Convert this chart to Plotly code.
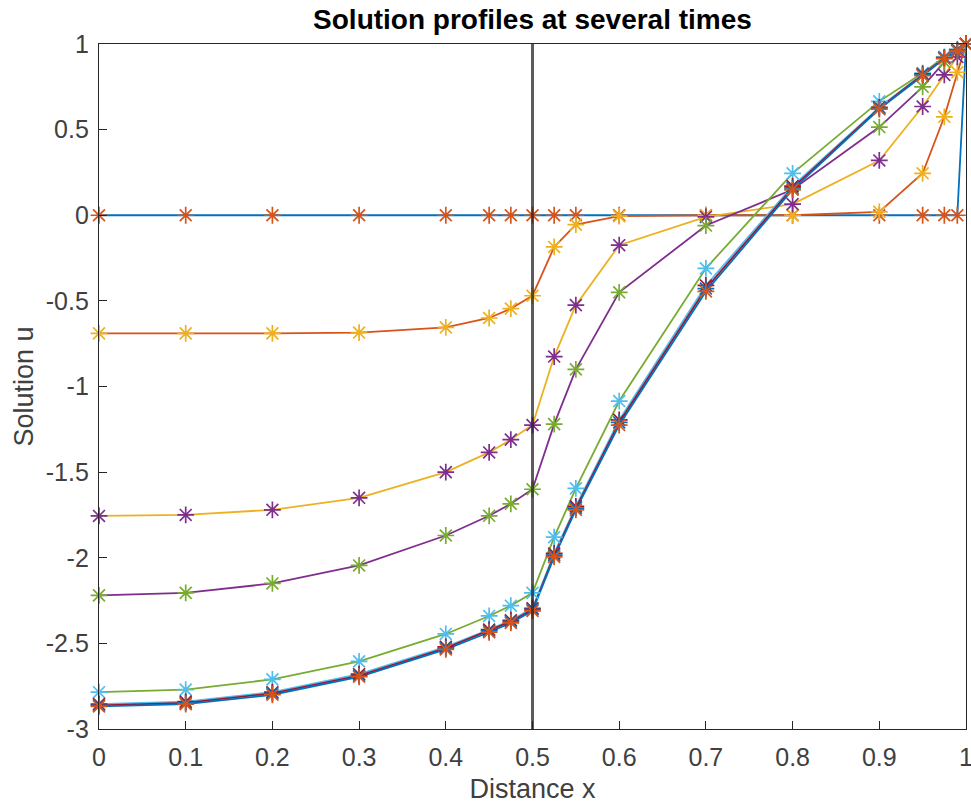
import plotly.graph_objects as go

x = [0, 0.1, 0.2, 0.3, 0.4, 0.45, 0.475, 0.5, 0.525, 0.55, 0.6, 0.7, 0.8, 0.9, 0.95, 0.975, 0.99, 1]

u1 = [0, 0, 0, 0, 0, 0, 0, 0, 0, 0, 0, 0, 0, 0, 0, 0, 0, 1]
u2 = [-0.69, -0.69, -0.69, -0.685, -0.655, -0.60, -0.545, -0.47, -0.185, -0.055, -0.005, 0, 0, 0.02, 0.245, 0.575, 0.835, 1]
u3 = [-1.756, -1.75, -1.72, -1.65, -1.50, -1.385, -1.31, -1.225, -0.825, -0.525, -0.175, -0.01, 0.065, 0.32, 0.635, 0.82, 0.925, 1]
u4 = [-2.22, -2.205, -2.15, -2.045, -1.87, -1.755, -1.685, -1.60, -1.22, -0.90, -0.45, -0.06, 0.15, 0.515, 0.75, 0.895, 0.96, 1]
u5 = [-2.785, -2.77, -2.71, -2.605, -2.445, -2.34, -2.28, -2.205, -1.88, -1.595, -1.085, -0.31, 0.245, 0.665, 0.83, 0.925, 0.97, 1]
u6 = [-2.855, -2.84, -2.785, -2.68, -2.52, -2.42, -2.365, -2.295, -1.975, -1.70, -1.195, -0.41, 0.17, 0.63, 0.825, 0.92, 0.965, 1]
u7 = [-2.862, -2.848, -2.792, -2.688, -2.528, -2.427, -2.372, -2.302, -1.985, -1.71, -1.21, -0.428, 0.16, 0.625, 0.82, 0.918, 0.963, 1]
u8 = [-2.868, -2.855, -2.80, -2.695, -2.535, -2.435, -2.38, -2.31, -1.995, -1.72, -1.225, -0.445, 0.15, 0.62, 0.815, 0.915, 0.96, 1]
profiles = [u1, u2, u3, u4, u5, u6, u7, u8]

interface_x = 0.5

xtick_vals = [0, 0.1, 0.2, 0.3, 0.4, 0.5, 0.6, 0.7, 0.8, 0.9, 1]
xtick_text = ["0", "0.1", "0.2", "0.3", "0.4", "0.5", "0.6", "0.7", "0.8", "0.9", "1"]
ytick_vals = [-3, -2.5, -2, -1.5, -1, -0.5, 0, 0.5, 1]
ytick_text = ["-3", "-2.5", "-2", "-1.5", "-1", "-0.5", "0", "0.5", "1"]

colors = ["#0072BD", "#D95319", "#EDB120", "#7E2F8E", "#77AC30", "#4DBEEE", "#A2142F"]
n = len(profiles)

FONT = "Liberation Sans, Arial, sans-serif"

fig = go.Figure()
# lines
for i, u in enumerate(profiles):
    fig.add_trace(go.Scatter(x=x, y=u, mode="lines",
                             line=dict(color=colors[i % 7], width=1.8),
                             showlegend=False, hoverinfo="skip"))
# markers (color order continues)
for i, u in enumerate(profiles):
    c = colors[(n + i) % 7]
    fig.add_trace(go.Scatter(x=x, y=u, mode="markers",
                             marker=dict(symbol="asterisk", size=14, color=c,
                                         line=dict(color=c, width=1.7)),
                             showlegend=False, hoverinfo="skip", cliponaxis=False))

fig.add_shape(type="line", x0=interface_x, x1=interface_x, xref="x", y0=0, y1=1, yref="paper",
              line=dict(color="rgba(38,38,38,0.75)", width=3))

axis_common = dict(showline=True, mirror=True, linecolor="#262626", linewidth=1.3,
                   ticks="inside", ticklen=8, tickcolor="#262626", tickwidth=1.3,
                   showgrid=False, zeroline=False, ticklabeloverflow="allow",
                   tickfont=dict(family=FONT, size=25, color="#404040"))

fig.update_layout(
    width=971, height=804,
    margin=dict(l=99, r=5, t=44, b=75),
    paper_bgcolor="white", plot_bgcolor="white",
    font=dict(family=FONT, color="#262626"),
    title=dict(text="<b>Solution profiles at several times</b>", x=0.5484, xanchor="center",
               y=0.976, yanchor="middle", yref="container",
               font=dict(size=28, color="black", family=FONT)),
    xaxis=dict(range=[0, 1], tickvals=xtick_vals, ticktext=xtick_text,
               ticklabelstandoff=6, automargin=False,
               title=dict(text="Distance x", font=dict(size=27, color="#404040")),
               **axis_common),
    yaxis=dict(range=[-3, 1], tickvals=ytick_vals, ticktext=ytick_text,
               ticklabelstandoff=4, automargin=True,
               title=dict(text="Solution u", font=dict(size=27, color="#404040"), standoff=4),
               **axis_common),
)

fig.write_html("out.html", config={"displayModeBar": False},
               post_script="document.body.style.margin='0';document.body.style.overflow='hidden';")
